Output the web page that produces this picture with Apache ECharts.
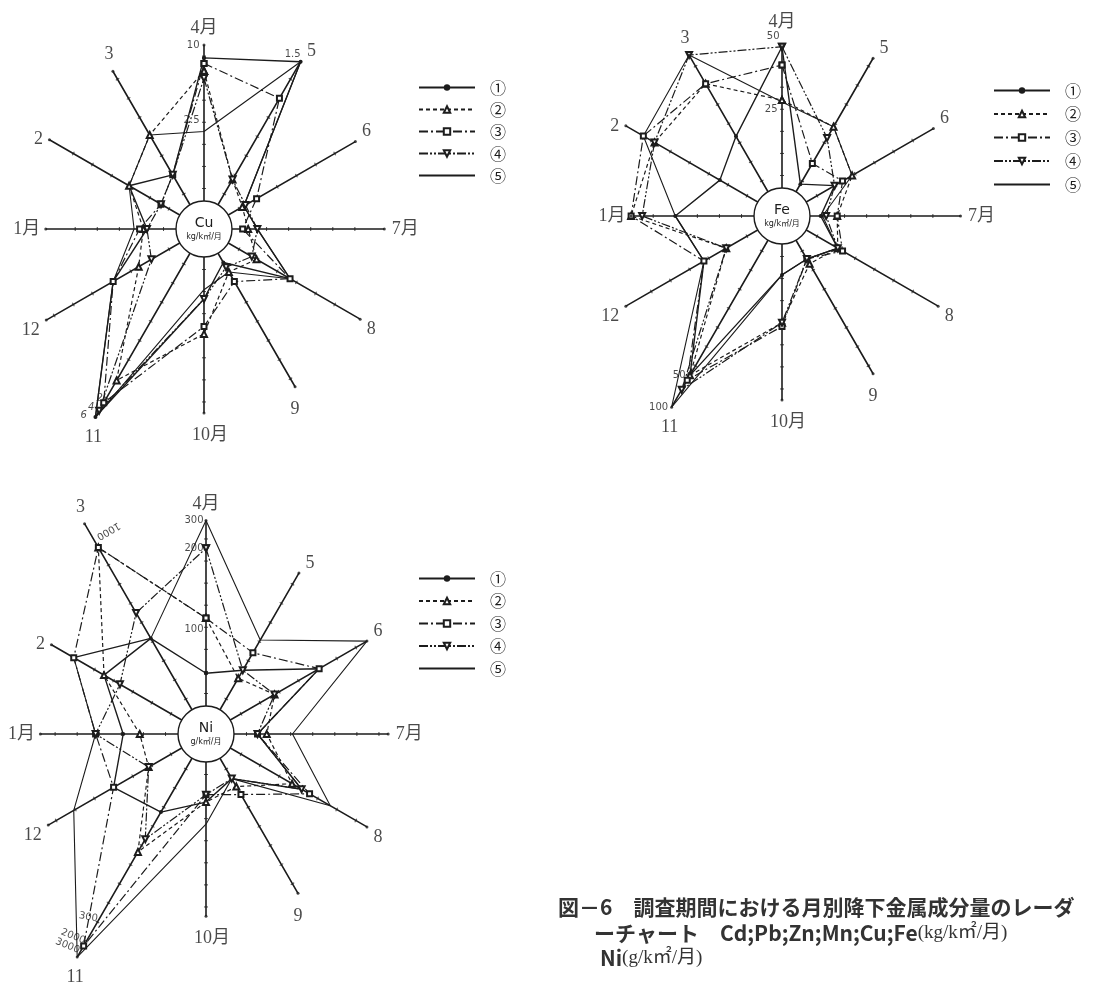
<!DOCTYPE html>
<html>
<head>
<meta charset="utf-8">
<script src="https://cdn.jsdelivr.net/npm/echarts@6/dist/echarts.min.js"></script>
<style>
  html, body { margin: 0; padding: 0; background: #fff; }
  #chart { width: 1094px; height: 992px; }
</style>
</head>
<body>
<div id="chart"></div>
<script>
// Spokes run clockwise from April (top) through March; survey year April -> March.
const months = ['4月', '5', '6', '7月', '8', '9', '10月', '11', '12', '1月', '2', '3'];
const seriesNames = ['①', '②', '③', '④', '⑤'];

// Radial values are on a relative scale (100 = standard spoke length).
// Cu
const cuSpoke = [100, 105, 95, 98, 98, 99, 100, 118, 99, 86, 97, 99];
const cu1 = [93, 105, 25, 29, 54, 21, 38, 118, 57, 31, 47, 34];
const cu2 = [86, 31, 24, 24, 33, 27, 57, 95, 41, 33, 47, 59];
const cu3 = [90, 82, 33, 21, 54, 33, 53, 109, 57, 35, 27, 34];
const cu4 = [82, 31, 26, 29, 30, 24, 38, 114, 33, 31, 27, 34];
const cu5 = [53, 105, 25, 29, 54, 27, 33, 118, 57, 38, 47, 59];
const cuTickLabels = [['10', 0, 100], ['2.5', 0, 59], ['1.5', 1, 105], ['2', 7, 106], ['4', 7, 112], ['6', 7, 117]];

// Fe
const feSpoke = [92, 99, 95, 97, 98, 99, 100, 120, 98, 82, 98, 101];
const fe1 = [92, 20, 33, 21, 35, 27, 32, 100, 49, 58, 39, 50];
const fe2 = [63, 56, 44, 30, 35, 30, 58, 100, 35, 82, 80, 83];
const fe3 = [82, 33, 38, 30, 38, 27, 60, 103, 49, 82, 87, 83];
const fe4 = [92, 49, 33, 24, 35, 27, 58, 109, 35, 76, 80, 101];
const fe5 = [62, 56, 44, 22, 35, 27, 32, 120, 49, 58, 87, 101];
const feTickLabels = [['50', 0, 92], ['25', 0, 58], ['50', 7, 100], ['100', 7, 120]];

// Ni
const niSpoke = [116, 101, 101, 99, 101, 100, 99, 140, 99, 90, 97, 132];
const ni1 = [33, 40, 71, 28, 60, 28, 37, 49, 58, 45, 64, 60];
const ni2 = [63, 35, 43, 33, 54, 33, 37, 74, 36, 36, 64, 117];
const ni3 = [63, 51, 71, 28, 65, 38, 33, 133, 58, 60, 83, 117];
const ni4 = [101, 40, 43, 28, 60, 28, 33, 66, 36, 60, 54, 76];
const ni5 = [116, 59, 101, 47, 78, 28, 49, 140, 83, 60, 83, 60];
const niTickLabels = [['300', 0, 116], ['200', 0, 101], ['100', 0, 57], ['1000', 11, 126], ['300', 7, 116], ['2000', 7, 130], ['3000', 7, 136]];

// ---- styling ----
const INK = '#1c1c1c';
const SERIF = "'Liberation Serif', 'DejaVu Serif', 'Noto Sans CJK JP', serif";
const SANS = "'DejaVu Sans', 'Noto Sans CJK JP', sans-serif";
const GOTHIC = "'Noto Sans CJK JP', sans-serif";
const RMAX = 150;          // radius axis maximum
const PX_PER_UNIT = 1.84;  // polar radius = RMAX * PX_PER_UNIT
const STEP = 360 / months.length;  // degrees between spokes
const ang = (i) => i * STEP;

const lineStyles = [
  { symbol: 'circle', size: 4, rotate: 0, type: 'solid', width: 1.4 },
  { symbol: 'emptyTriangle', size: 6, rotate: 0, type: [4, 3], width: 1.2 },
  { symbol: 'emptyRect', size: 5, rotate: 0, type: [9, 3, 2, 3], width: 1.2 },
  { symbol: 'emptyTriangle', size: 6, rotate: 180, type: [9, 2, 2, 2, 2, 2], width: 1.2 },
  { symbol: 'none', size: 0, rotate: 0, type: 'solid', width: 1.1 }
];

const monthLabelPlacement = [
  { position: 'top', distance: 8 },
  { position: 'right', distance: 5, offset: [0, -10] },
  { position: 'right', distance: 5, offset: [0, -10] },
  { position: 'right', distance: 6 },
  { position: 'right', distance: 5, offset: [0, 10] },
  { position: 'bottom', distance: 12 },
  { position: 'bottom', distance: 12, offset: [6, 0] },
  { position: 'bottom', distance: 10, offset: [-2, 0] },
  { position: 'left', distance: 5, offset: [0, 10] },
  { position: 'left', distance: 4 },
  { position: 'left', distance: 5 },
  { position: 'top', distance: 6, offset: [-4, 0] }
];

// placement of the small scale numbers, per chart
const tickLabelPlacement = {
  Cu: [
    { position: 'left', distance: 4 },
    { position: 'left', distance: 4 },
    { position: 'top', distance: 2, offset: [-8, 0] },
    { position: 'left', distance: 3, fontStyle: 'italic' },
    { position: 'left', distance: 6, fontStyle: 'italic' },
    { position: 'left', distance: 9, fontStyle: 'italic' }
  ],
  Fe: [
    { position: 'left', distance: 2, offset: [0, -10] },
    { position: 'left', distance: 4 },
    { position: 'left', distance: 4 },
    { position: 'left', distance: 3 }
  ],
  Ni: [
    { position: 'left', distance: 2 },
    { position: 'left', distance: 2 },
    { position: 'left', distance: 2 },
    { position: 'inside', offset: [-17, -7], rotate: 210 },
    { position: 'left', distance: 1, rotate: -10 },
    { position: 'left', distance: 1, rotate: -22 },
    { position: 'left', distance: 1, rotate: -22 }
  ]
};

const charts = [
  { key: 'Cu', center: [204, 229], unit: 'kg/k㎡/月', spoke: cuSpoke, values: [cu1, cu2, cu3, cu4, cu5], ticks: cuTickLabels, legendPos: [413, 74], legendGap: 5, aprilGap: 6 },
  { key: 'Fe', center: [782, 216], unit: 'kg/k㎡/月', spoke: feSpoke, values: [fe1, fe2, fe3, fe4, fe5], ticks: feTickLabels, legendPos: [988, 77], legendGap: 6.5, aprilGap: 14 },
  { key: 'Ni', center: [206, 734], unit: 'g/k㎡/月', spoke: niSpoke, values: [ni1, ni2, ni3, ni4, ni5], ticks: niTickLabels, legendPos: [413, 565], legendGap: 5.5, aprilGap: 6 }
];

const titleStyle = { fontSize: 21, fontWeight: 'bold', color: '#333', fontFamily: GOTHIC,
  rich: { u: { fontSize: 19, fontWeight: 'normal', color: '#333', fontFamily: SERIF } } };

const option = {
  animation: false,
  backgroundColor: '#fff',
  polar: [], angleAxis: [], radiusAxis: [], series: [], legend: [],
  title: [
    { text: '図－6　調査期間における月別降下金属成分量のレーダ', left: 553, top: 892, textStyle: titleStyle },
    { text: 'ーチャート　Cd;Pb;Zn;Mn;Cu;Fe{u|(kg/k㎡/月)}', left: 589, top: 918, textStyle: titleStyle },
    { text: 'Ni{u|(g/k㎡/月)}', left: 595, top: 943, textStyle: titleStyle }
  ]
};

charts.forEach((c, k) => {
  option.polar.push({ center: c.center, radius: RMAX * PX_PER_UNIT });
  option.angleAxis.push({
    polarIndex: k, type: 'value', min: 0, max: 360, interval: STEP, startAngle: 90, clockwise: true,
    axisLine: { show: false }, axisTick: { show: false },
    axisLabel: { show: false }, splitLine: { show: false }
  });
  option.radiusAxis.push({
    polarIndex: k, type: 'value', min: 0, max: RMAX,
    axisLine: { show: false }, axisTick: { show: false }, axisLabel: { show: false }, splitLine: { show: false }
  });

  // spokes
  const spokeData = [];
  c.spoke.forEach((len, i) => {
    if (i > 0) spokeData.push('-');
    spokeData.push([0, ang(i)], [len, ang(i)]);
  });
  option.series.push({
    name: c.key + ' axis', type: 'line', coordinateSystem: 'polar', polarIndex: k,
    data: spokeData, symbol: 'none', silent: true, z: 1, clip: false,
    lineStyle: { color: INK, width: 1.6 }
  });

  // small tick marks along spokes
  const tickData = [];
  c.spoke.forEach((len, i) => {
    for (let r = 22; r < len - 4; r += 12) tickData.push([r, ang(i)]);
  });
  option.series.push({
    name: c.key + ' ticks', type: 'scatter', coordinateSystem: 'polar', polarIndex: k,
    data: tickData, symbol: 'rect', symbolSize: [1, 4], silent: true, z: 1, clip: false,
    symbolRotate: (v) => 90 - v[1],
    itemStyle: { color: INK }
  });

  // month labels at spoke ends
  option.series.push({
    name: c.key + ' months', type: 'scatter', coordinateSystem: 'polar', polarIndex: k,
    silent: true, z: 6, symbol: 'circle', symbolSize: 3, clip: false,
    itemStyle: { color: INK },
    data: c.spoke.map((len, i) => {
      const place = Object.assign({}, monthLabelPlacement[i]);
      if (i === 0) place.distance = c.aprilGap;
      return {
        value: [len, ang(i)],
        label: Object.assign({ show: true, formatter: months[i], color: INK, fontSize: 18, fontFamily: SERIF }, place)
      };
    })
  });

  // scale numbers on some spokes
  option.series.push({
    name: c.key + ' scale', type: 'scatter', coordinateSystem: 'polar', polarIndex: k,
    silent: true, z: 6, symbol: 'circle', symbolSize: 1, clip: false,
    itemStyle: { color: 'rgba(0,0,0,0)' },
    data: c.ticks.map((t, j) => ({
      value: [t[2], ang(t[1])],
      label: Object.assign({ show: true, formatter: t[0], color: INK, fontSize: 10, fontFamily: SANS }, tickLabelPlacement[c.key][j])
    }))
  });

  // the five data series (each polygon closed back to April at 360°)
  c.values.forEach((vals, s) => {
    const st = lineStyles[s];
    const data = vals.map((r, i) => [r, ang(i)]);
    data.push([vals[0], 360]);
    option.series.push({
      name: seriesNames[s], type: 'line', coordinateSystem: 'polar', polarIndex: k,
      data: data, symbol: st.symbol, symbolSize: st.size, symbolRotate: st.rotate,
      showSymbol: st.symbol !== 'none', showAllSymbol: true, silent: true, z: 3, clip: false,
      itemStyle: { color: INK, borderWidth: 1 },
      lineStyle: { color: INK, width: st.width, type: st.type }
    });
  });

  // centre disc with element name and unit
  option.series.push({
    name: c.key + ' hub', type: 'pie', center: c.center, radius: [0, 28], silent: true, z: 10,
    data: [{ value: 1, name: c.key }],
    itemStyle: { color: '#fff', borderColor: INK, borderWidth: 1.4 },
    labelLine: { show: false },
    label: {
      show: true, position: 'center',
      formatter: '{a|' + c.key + '}\n{b|' + c.unit + '}',
      rich: {
        a: { fontSize: 14, fontFamily: SANS, color: INK, lineHeight: 16 },
        b: { fontSize: 8, fontFamily: SANS, color: INK, lineHeight: 11 }
      }
    }
  });

  option.legend.push({
    left: c.legendPos[0], top: c.legendPos[1], orient: 'vertical',
    data: seriesNames.map((n, s) => (s === 4 ? { name: n, itemStyle: { opacity: 0 } } : n)),
    selectedMode: false,
    itemWidth: 56, itemHeight: 8, itemGap: c.legendGap,
    textStyle: { fontSize: 16, color: INK, fontFamily: GOTHIC, padding: [0, 0, 0, 10], lineHeight: 17 }
  });
});

const chart = echarts.init(document.getElementById('chart'), null, { renderer: 'canvas' });
chart.setOption(option);
</script>
</body>
</html>
